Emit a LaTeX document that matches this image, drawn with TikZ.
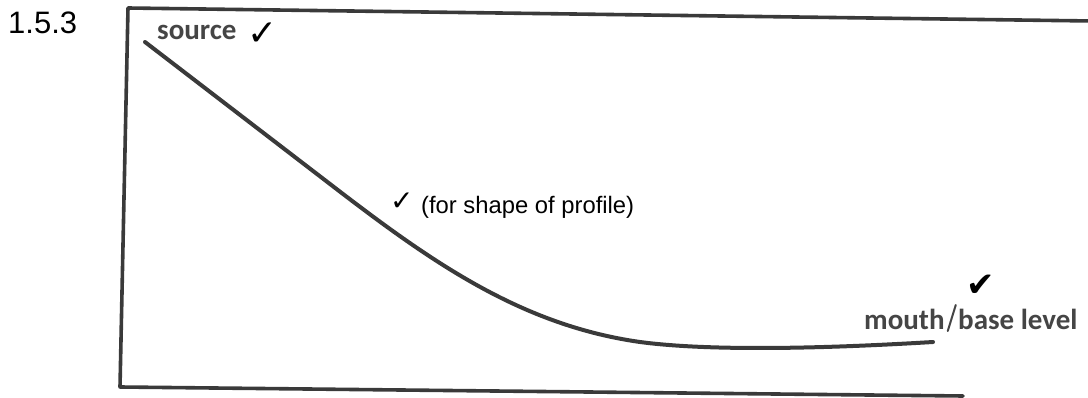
\documentclass[tikz,border=0pt]{standalone}
\usepackage{fontspec}
\setmainfont{Liberation Sans}
\newfontfamily\calib{Carlito}
\newfontfamily\symb{DejaVu Sans}
\definecolor{ink}{HTML}{3A3A3A}
\definecolor{labelgray}{HTML}{454545}
\begin{document}
\begin{tikzpicture}[x=1pt,y=-1pt,
  frameline/.style={draw=ink,line width=3.6pt,line cap=round,line join=round},
  profile/.style={draw=ink,line width=4pt,line cap=round,line join=round},
  boldlabel/.style={inner sep=0pt,anchor=base west,font=\calib\bfseries\fontsize{29}{29}\selectfont,text=labelgray},
  plainlabel/.style={inner sep=0pt,anchor=base west,font=\fontsize{23.8}{23.8}\selectfont,text=black},
  tick/.style={inner sep=0pt,anchor=base west,text=black}]
\useasboundingbox (0,0) rectangle (1088,398);
% question number
\node[inner sep=0pt,anchor=base west,font=\fontsize{31}{31}\selectfont] (num) at (8,34) {1.5.3};
% frame
\draw[frameline] (1092,21) -- (128,8) -- (120,387) -- (963,396);
% profile curve
\coordinate (p0) at (145,42);
\coordinate (p1) at (330,184);
\coordinate (p2) at (640,342);
\coordinate (p3) at (933,342);
\draw[profile] (p0) -- (p1) .. controls (430,261) and (520,325) .. (p2)
  .. controls (700,350) and (800,350) .. (p3);
% labels
\node[boldlabel] (src) at (157,40) {source};
\node[tick,font=\symb\fontsize{36}{36}\selectfont] (srctick) at (247,46) {✓};
\node[tick,font=\symb\fontsize{28}{28}\selectfont] (midtick) at (390,211) {✓};
\node[plainlabel] (shape) at (421,214) {(for shape of profile)};
\node[boldlabel] (mouth) at (864,330) {mouth};
\node[boldlabel] (base) at (958,330) {base level};
\node[tick,font=\symb\fontsize{34}{34}\selectfont] (mtick) at (966,297) {✔};
\draw[draw=labelgray,line width=2pt,line cap=round] (mouth.base east) ++(3,1) coordinate (sl1) -- ++(8,-26) coordinate (sl2);
\end{tikzpicture}
\end{document}
